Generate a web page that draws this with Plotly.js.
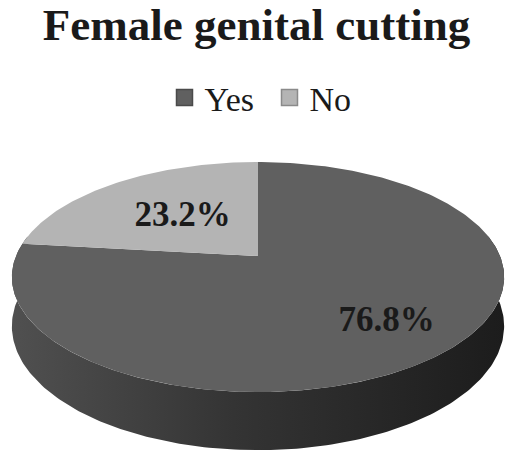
<!DOCTYPE html>
<html>
<head>
<meta charset="utf-8">
<script src="https://cdn.plot.ly/plotly-3.0.1.min.js"></script>
<style>
  html, body { margin: 0; padding: 0; background: #fff; }
  #chart { width: 513px; height: 462px; }
</style>
</head>
<body>
<div id="chart"></div>
<script>
// data
var labels = ["Yes", "No"];
var values = [76.8, 23.2];
var colors = ["#606060", "#b4b4b4"];
var edgeColors = ["#4a4a4a", "#8a8a8a"];
var labelRadius = [0.72, 0.5];

// 3d pie projection (pixel space, y down)
var CX = 258, CY = 256, R = 242, A = 111.2, B = 0.1826, DEPTH = 47.5;
var SERIF = "Liberation Serif, Times New Roman, serif";

function proj(deg, r, drop) {
    var t = deg * Math.PI / 180;
    var u = r * Math.sin(t), v = -r * Math.cos(t);
    var s = 1 / (1 - B * v);
    return [CX + R * u * s, CY + A * v * s + drop * DEPTH * s];
}

var total = values.reduce(function (a, b) { return a + b; }, 0);
var traces = [];

// side wall (front part, visible)
var edgeDeg = Math.acos(-B) * 180 / Math.PI; // where rim is widest
var sx = [], sy = [];
for (var d = 180 - edgeDeg; d <= 180 + edgeDeg + 0.001; d += 1) {
    var p = proj(d, 1, 0); sx.push(p[0]); sy.push(p[1]);
}
for (var d = 180 + edgeDeg; d >= 180 - edgeDeg - 0.001; d -= 1) {
    var p = proj(d, 1, 1); sx.push(p[0]); sy.push(p[1]);
}
traces.push({
    x: sx, y: sy, type: "scatter", mode: "lines", fill: "toself",
    line: {width: 0, color: "#2a2a2a"},
    fillgradient: {
        type: "horizontal",
        colorscale: [[0, "#505050"], [0.45, "#343434"], [1, "#1c1c1c"]]
    },
    hoverinfo: "skip", showlegend: false
});

// top face slices, clockwise from 12 o'clock
var start = 0;
var tx = [], ty = [], tt = [];
for (var i = 0; i < values.length; i++) {
    var sweep = values[i] / total * 360;
    var xs = [CX], ys = [CY];
    var n = Math.ceil(sweep);
    for (var k = 0; k <= n; k++) {
        var p = proj(start + sweep * k / n, 1, 0);
        xs.push(p[0]); ys.push(p[1]);
    }
    xs.push(CX); ys.push(CY);
    traces.push({
        x: xs, y: ys, type: "scatter", mode: "lines", fill: "toself",
        fillcolor: colors[i], line: {width: 0, color: colors[i]},
        hoverinfo: "skip", showlegend: false
    });
    var lp = proj(start + sweep / 2, labelRadius[i], 0);
    tx.push(lp[0]); ty.push(lp[1]); tt.push(values[i].toFixed(1) + "%");
    start += sweep;
}

// percent labels
traces.push({
    x: tx, y: ty, text: tt, type: "scatter", mode: "text",
    textfont: {family: SERIF, size: 35, color: "#1a1a1a", weight: "bold"},
    hoverinfo: "skip", showlegend: false
});

// legend entries
for (var i = 0; i < labels.length; i++) {
    traces.push({
        x: [null], y: [null], type: "scatter", mode: "markers", name: labels[i],
        marker: {symbol: "square", size: 19, color: colors[i], line: {width: 1.5, color: edgeColors[i]}}
    });
}

var layout = {
    width: 513, height: 462,
    margin: {l: 0, r: 0, t: 0, b: 0},
    paper_bgcolor: "#fff", plot_bgcolor: "#fff",
    title: {
        text: "<b>Female genital cutting</b>",
        font: {family: SERIF, size: 45, color: "#1a1a1a"},
        x: 0.5, xanchor: "center", y: 1 - 24 / 462, yanchor: "middle"
    },
    xaxis: {range: [0, 513], visible: false, fixedrange: true},
    yaxis: {range: [462, 0], visible: false, fixedrange: true},
    showlegend: true,
    legend: {
        orientation: "h", x: 0.5 + 13 / 513, xanchor: "center", y: 1 - 98 / 462, yanchor: "middle",
        font: {family: SERIF, size: 34, color: "#1a1a1a"},
        entrywidth: 60,
        bgcolor: "rgba(0,0,0,0)"
    }
};

Plotly.newPlot("chart", traces, layout, {staticPlot: true});
</script>
</body>
</html>
